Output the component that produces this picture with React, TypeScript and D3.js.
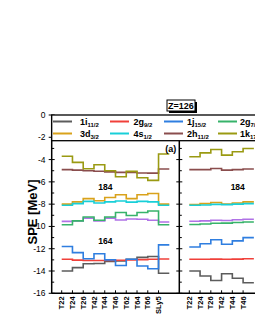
import React, { useEffect, useRef } from 'react';
import * as d3 from 'd3';

// categories (Skyrme forces)
const forces = ['T22', 'T24', 'T26', 'T42', 'T44', 'T46', 'T62', 'T64', 'T66', 'SLy5'];

// legend entries: [main, subscript]
const levelNames: [string, string][] = [
  ['1i', '11/2'], ['2g', '9/2'], ['1j', '15/2'], ['2g', '7/2'],
  ['3d', '3/2'], ['4s', '1/2'], ['2h', '11/2'], ['1k', '17/2'],
];
const levelColors = ['#5c5c5c', '#f0403a', '#2f7ee0', '#37b36a', '#d9a21b', '#18cfd8', '#8a4d4d', '#9a9a12'];
const purpleColor = '#b072e6';

// panel (a) SPE values [MeV]
const a1i = [-14.0, -13.7, -13.35, -13.33, -13.15, -13.1, -12.95, -12.78, -12.7, -14.2];
const a2g9 = [-12.95, -13.02, -13.05, -13.05, -13.05, -13.03, -13.0, -12.98, -12.95, -12.92];
const a1j = [-11.8, -12.35, -12.9, -12.45, -13.0, -13.5, -12.95, -13.55, -13.8, -11.65];
const a2g7 = [-9.85, -9.5, -9.15, -9.45, -9.15, -8.75, -9.02, -8.75, -8.62, -9.85];
const a3d = [-8.0, -7.8, -7.5, -7.7, -7.4, -7.15, -7.5, -7.15, -7.05, -8.0];
const a4s = [-8.1, -7.95, -7.75, -7.9, -7.8, -7.72, -7.82, -7.75, -7.8, -8.1];
const a2h = [-4.9, -4.95, -5.0, -5.05, -5.1, -5.15, -5.15, -5.2, -5.22, -4.85];
const a1k = [-3.7, -4.25, -4.82, -4.46, -5.0, -5.54, -5.06, -5.63, -5.87, -3.5];
const aPurple = [-9.55, -9.5, -9.25, -9.5, -9.25, -9.42, -9.33, -9.35, -9.45, -9.6];

// panel (b) values (only the visible part of the panel)
const b1i = [-14.0, -14.45, -14.85, -14.25, -14.65, -15.05];
const b2g9 = [-12.95, -12.95, -12.93, -12.95, -12.93, -12.9];
const b1j = [-11.85, -11.55, -11.2, -11.6, -11.3, -11.0];
const b2g7 = [-9.83, -9.78, -9.72, -9.7, -9.65, -9.6];
const b3d = [-8.03, -7.95, -7.85, -7.98, -7.9, -7.8];
const b4s = [-8.1, -8.07, -8.02, -8.04, -8.0, -7.95];
const b2h = [-4.9, -4.9, -4.8, -4.95, -4.9, -4.85];
const b1k = [-3.75, -3.4, -3.1, -3.6, -3.3, -3.0];
const bPurple = [-9.53, -9.5, -9.44, -9.47, -9.4, -9.35];

const yTicks = [0, -2, -4, -6, -8, -10, -12, -14, -16];

const FONT = '"Liberation Sans", Arial, sans-serif';

const App = () => {
  const svgRef = useRef<SVGSVGElement>(null);

  useEffect(() => {
    const svg = d3.select(svgRef.current);
    svg.selectAll('*').remove();

    const left = 51.7;
    const panelW = 127.6;
    const pad = 10;
    const top = 115;
    const bottom = 293.3;
    const legendBottom = 140.7;
    const W = 255;

    const y = d3.scaleLinear().domain([0, -16]).range([top, bottom]);

    const panels = [
      { x0: left, series: [a1i, a2g9, a1j, a2g7, a3d, a4s, a2h, a1k], purple: aPurple, label: '(a)', tags: [['184', 4.05, -6.75], ['164', 4.05, -11.6]] },
      { x0: left + panelW, series: [b1i, b2g9, b1j, b2g7, b3d, b4s, b2h, b1k], purple: bPurple, label: '', tags: [['184', 4.5, -6.75]] },
    ];

    const stepLine = d3.line<[number, number]>().curve(d3.curveStepAfter);

    panels.forEach((p, pi) => {
      const x = d3.scaleLinear().domain([0, forces.length]).range([p.x0 + pad, p.x0 + panelW - pad]);
      const g = svg.append('g');

      const drawSeries = (vals: number[], color: string) => {
        const pts: [number, number][] = vals.map((v, i) => [x(i), y(v)]);
        pts.push([x(vals.length), y(vals[vals.length - 1])]);
        g.append('path')
          .attr('d', stepLine(pts))
          .attr('fill', 'none')
          .attr('stroke', color)
          .attr('stroke-width', 1.6)
          .attr('stroke-linejoin', 'miter');
      };

      // draw order: back to front
      drawSeries(p.purple, purpleColor);
      p.series.forEach((s, i) => drawSeries(s, levelColors[i]));

      // x ticks and labels (only those inside the picture)
      forces.forEach((f, i) => {
        if (x(i) > W - 4) return;
        g.append('line')
          .attr('x1', x(i)).attr('x2', x(i))
          .attr('y1', bottom).attr('y2', bottom - 3)
          .attr('stroke', '#000').attr('stroke-width', 1);
        g.append('text')
          .attr('transform', `translate(${x(i)},${bottom + 3}) rotate(-90)`)
          .attr('dy', '0.35em')
          .attr('text-anchor', 'end')
          .style('font-family', FONT)
          .style('font-size', '7.5px')
          .style('font-weight', 'bold')
          .text(f);
      });

      p.tags.forEach(([t, xi, v]) => {
        g.append('text')
          .attr('x', x(xi as number))
          .attr('y', y(v as number))
          .attr('text-anchor', 'middle')
          .style('font-family', FONT)
          .style('font-size', '8.5px')
          .style('font-weight', 'bold')
          .text(t as string);
      });

      if (p.label) {
        g.append('text')
          .attr('x', p.x0 + panelW - 3)
          .attr('y', 151.5)
          .attr('text-anchor', 'end')
          .style('font-family', FONT)
          .style('font-size', '9px')
          .style('font-weight', 'bold')
          .text(p.label);
      }

      // vertical axis on left edge of the panel
      const axX = p.x0;
      const yStart = pi === 0 ? top : legendBottom;
      g.append('line')
        .attr('x1', axX).attr('x2', axX)
        .attr('y1', yStart).attr('y2', bottom)
        .attr('stroke', '#000').attr('stroke-width', 1.5);
      d3.range(0, -17, -1).forEach(v => {
        if (y(v) < yStart) return;
        const major = v % 2 === 0;
        g.append('line')
          .attr('x1', major ? axX - 3 : axX).attr('x2', major ? axX + 3 : axX + 2.5)
          .attr('y1', y(v)).attr('y2', y(v))
          .attr('stroke', '#000').attr('stroke-width', 1);
      });
    });

    // y tick labels
    yTicks.forEach(v => {
      svg.append('text')
        .attr('x', 45.5)
        .attr('y', y(v))
        .attr('dy', '0.35em')
        .attr('text-anchor', 'end')
        .style('font-family', FONT)
        .style('font-size', '8.5px')
        .text(v === 0 ? '0' : `-${Math.abs(v)}`);
    });

    // axis title
    svg.append('text')
      .attr('transform', `translate(36.5,212) rotate(-90)`)
      .attr('text-anchor', 'middle')
      .style('font-family', FONT)
      .style('font-size', '13px')
      .style('font-weight', 'bold')
      .text('SPE [MeV]');

    // bottom axis
    svg.append('line')
      .attr('x1', left).attr('x2', 260)
      .attr('y1', bottom).attr('y2', bottom)
      .attr('stroke', '#000').attr('stroke-width', 1.5);

    // legend box
    svg.append('rect')
      .attr('x', left).attr('y', top)
      .attr('width', 260 - left).attr('height', legendBottom - top)
      .attr('fill', '#fff')
      .attr('stroke', '#000').attr('stroke-width', 1.3);

    const colLine = [53, 110, 164, 218];
    const colText = [80, 133.5, 187, 240];
    const rowY = [121.5, 133.5];
    levelNames.forEach(([main, sub], i) => {
      const c = i % 4;
      const r = Math.floor(i / 4);
      svg.append('line')
        .attr('x1', colLine[c]).attr('x2', colLine[c] + 19)
        .attr('y1', rowY[r]).attr('y2', rowY[r])
        .attr('stroke', levelColors[i]).attr('stroke-width', 2);
      const t = svg.append('text')
        .attr('x', colText[c])
        .attr('y', rowY[r] + 3)
        .style('font-family', FONT)
        .style('font-size', '9px')
        .style('font-weight', 'bold');
      t.append('tspan').text(main);
      t.append('tspan')
        .attr('dy', 2.5)
        .style('font-size', '6px')
        .text(sub);
    });

    // Z=126 title box
    svg.append('rect')
      .attr('x', 169).attr('y', 102).attr('width', 28).attr('height', 11)
      .attr('fill', '#000');
    svg.append('rect')
      .attr('x', 167).attr('y', 100).attr('width', 28).attr('height', 11)
      .attr('fill', '#fff').attr('stroke', '#000').attr('stroke-width', 1);
    svg.append('text')
      .attr('x', 181).attr('y', 109.3)
      .attr('text-anchor', 'middle')
      .style('font-family', FONT)
      .style('font-size', '9px')
      .style('font-weight', 'bold')
      .text('Z=126');
  }, []);

  return (
    <svg
      ref={svgRef}
      width={255}
      height={330}
      style={{ position: 'absolute', left: 0, top: 0, background: '#fff' }}
    />
  );
};

export default App;
